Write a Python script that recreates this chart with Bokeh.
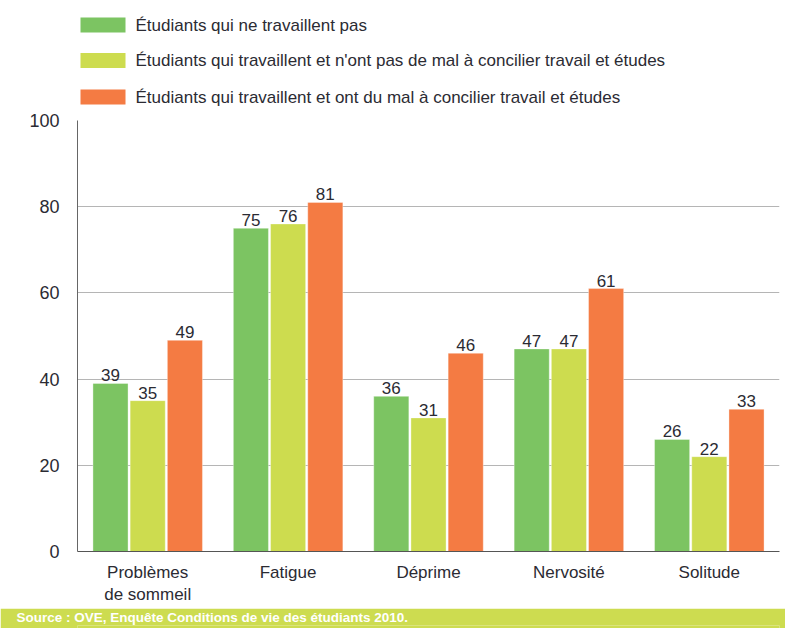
from bokeh.plotting import figure
from bokeh.models import FactorRange, Range1d, FixedTicker, ColumnDataSource
from bokeh.transform import dodge
from bokeh.layouts import column
from bokeh.core.properties import value
from bokeh.embed import file_html
from bokeh.resources import INLINE

categories = ["Problèmes\nde sommeil", "Fatigue", "Déprime", "Nervosité", "Solitude"]
series_names = [
    "Étudiants qui ne travaillent pas",
    "Étudiants qui travaillent et n'ont pas de mal à concilier travail et études",
    "Étudiants qui travaillent et ont du mal à concilier travail et études",
]
ne_travaillent_pas = [39, 75, 36, 47, 26]
sans_mal = [35, 76, 31, 47, 22]
avec_mal = [49, 81, 46, 61, 33]
y_ticks = [0, 20, 40, 60, 80, 100]
source_text = "Source  : OVE, Enquête Conditions de vie des étudiants 2010."

colors = ["#7CC462", "#CDDC4F", "#F47B43"]
offsets = [-0.265, 0.0, 0.265]
font = "Liberation Sans"
txt_color = "#2b2b33"
band = "#CDDC50"
LEFT, RIGHT = 77, 6

# ---------- legend strip (x in page pixels) ----------
leg = figure(width=785, height=110, x_range=Range1d(LEFT, 785 - RIGHT), y_range=Range1d(110, 0),
             output_backend="svg", toolbar_location=None,
             min_border_left=LEFT, min_border_right=RIGHT, min_border_top=0, min_border_bottom=0,
             x_axis_location=None, y_axis_location=None)
leg.grid.visible = False
leg.outline_line_color = None
row_y = [24.5, 60, 96.5]
leg_src = ColumnDataSource(dict(y=row_y, name=series_names, color=colors))
leg.rect(x=102.5, y="y", width=45, height=15, fill_color="color", line_color=None, source=leg_src)
leg.text(x=135, y="y", text="name", source=leg_src, text_baseline="middle", text_align="left",
         text_font=value(font), text_font_size="17px", text_color=txt_color)

# ---------- main chart ----------
src = ColumnDataSource(dict(cat=categories, s0=ne_travaillent_pas, s1=sans_mal, s2=avec_mal,
                            l0=[str(v) for v in ne_travaillent_pas],
                            l1=[str(v) for v in sans_mal],
                            l2=[str(v) for v in avec_mal]))

p = figure(width=785, height=498, x_range=FactorRange(*categories), y_range=Range1d(0, 100),
           output_backend="svg", toolbar_location=None,
           min_border_left=LEFT, min_border_right=RIGHT, min_border_top=10, min_border_bottom=57)
p.outline_line_color = None

for i in range(3):
    p.vbar(x=dodge("cat", offsets[i], range=p.x_range), top="s%d" % i, width=0.25,
           source=src, fill_color=colors[i], line_color="white", line_alpha=0.35, line_width=1)
    p.text(x=dodge("cat", offsets[i], range=p.x_range), y="s%d" % i, text="l%d" % i,
           source=src, text_align="center", text_baseline="bottom", y_offset=-2,
           text_font=value(font), text_font_size="17px", text_color=txt_color)

p.xgrid.grid_line_color = None
p.ygrid.grid_line_color = "#b5b5b5"
p.ygrid.grid_line_width = 1
p.yaxis.ticker = FixedTicker(ticks=y_ticks)
for ax in (p.xaxis, p.yaxis):
    ax.major_tick_line_color = None
    ax.minor_tick_line_color = None
    ax.major_label_text_font = font
    ax.major_label_text_font_size = "17px"
    ax.major_label_text_color = txt_color
p.yaxis.major_label_text_font_size = "18px"
p.yaxis.axis_line_color = "#666666"
p.xaxis.axis_line_color = "#555555"
p.yaxis.major_label_standoff = 12
p.xaxis.major_label_standoff = 5

# ---------- source footer (text as a title, so it can sit in the left border) ----------
foot = figure(width=785, height=20, x_range=Range1d(0, 1), y_range=Range1d(0, 1),
              output_backend="svg", toolbar_location=None,
              min_border_left=LEFT, min_border_right=RIGHT, min_border_top=0, min_border_bottom=0,
              x_axis_location=None, y_axis_location=None,
              title=source_text, title_location="above")
foot.grid.visible = False
foot.outline_line_color = None
foot.background_fill_color = band
foot.border_fill_color = band
foot.title.align = "left"
foot.title.offset = 16 - LEFT
foot.title.standoff = 0
foot.title.text_font = font
foot.title.text_font_style = "bold"
foot.title.text_font_size = "13.5px"
foot.title.text_color = "white"
foot.title.vertical_align = "middle"

layout = column(leg, p, foot, spacing=0)
open("out.html", "w").write(file_html(layout, INLINE))
